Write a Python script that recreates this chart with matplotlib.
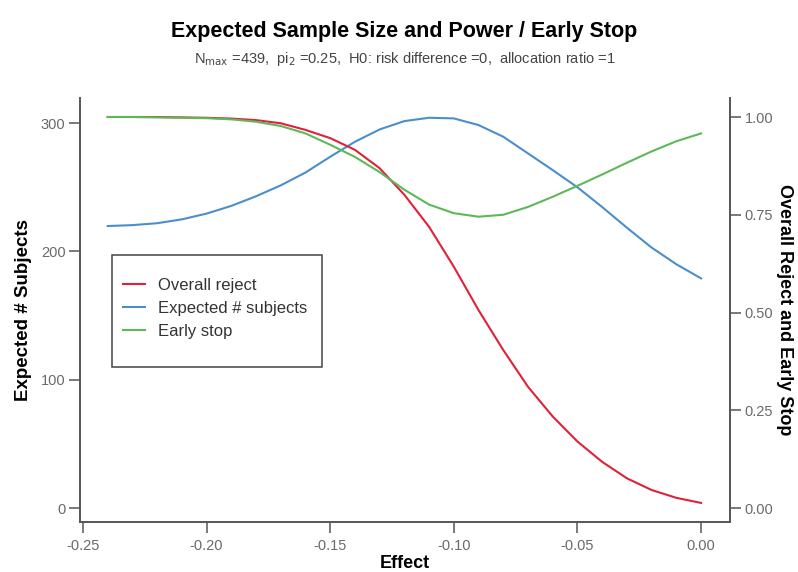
import numpy as np
import matplotlib
matplotlib.use("Agg")
import matplotlib.pyplot as plt
from matplotlib.patches import Rectangle

plt.rcParams['font.family'] = ['Liberation Sans', 'DejaVu Sans']

# effect grid and curves
effect = [-0.24, -0.23, -0.22, -0.21, -0.20, -0.19, -0.18, -0.17, -0.16, -0.15,
          -0.14, -0.13, -0.12, -0.11, -0.10, -0.09, -0.08, -0.07, -0.06, -0.05,
          -0.04, -0.03, -0.02, -0.01, 0.00]
overall_reject = [1.000, 1.000, 1.000, 0.999, 0.998, 0.996, 0.992, 0.984, 0.967, 0.946,
                  0.916, 0.869, 0.801, 0.719, 0.617, 0.506, 0.404, 0.310, 0.234, 0.170,
                  0.118, 0.076, 0.046, 0.026, 0.013]
expected_n = [219.8, 220.5, 222.0, 225.0, 229.5, 235.5, 243.0, 251.5, 261.5, 273.8,
              285.5, 295.1, 301.6, 304.2, 303.7, 298.5, 289.4, 276.4, 263.4, 250.0,
              234.6, 218.5, 203.0, 190.0, 179.0]
early_stop = [1.000, 1.000, 0.999, 0.998, 0.997, 0.994, 0.988, 0.977, 0.958, 0.929,
              0.898, 0.859, 0.814, 0.776, 0.754, 0.745, 0.750, 0.770, 0.796, 0.824,
              0.853, 0.883, 0.912, 0.938, 0.958]

xticks = [-0.25, -0.20, -0.15, -0.10, -0.05, 0.00]
yticks_left = [0, 100, 200, 300]
yticks_right = [0.00, 0.25, 0.50, 0.75, 1.00]

red = "#DF2139"
blue = "#4A8FCB"
green = "#5DB85A"
spine_col = "#555555"
lab_col = "#6a6a6a"

W, H = 798, 572
fig = plt.figure(figsize=(W / 100, H / 100), dpi=100)
ax = fig.add_axes([80 / W, 1 - 522 / H, 650 / W, 424 / H])
ax2 = ax.twinx()

l_blue, = ax.plot(effect, expected_n, color=blue, lw=1.5, label="Expected # subjects")
l_red, = ax2.plot(effect, overall_reject, color=red, lw=1.5, label="Overall reject")
l_green, = ax2.plot(effect, early_stop, color=green, lw=1.5, label="Early stop")

ax.set_xlim(-0.2512, 0.0117)
ax.set_ylim(-10.9, 319.6)
ax2.set_ylim(-0.0358, 1.0486)

ax.set_xticks(xticks)
ax.set_xticklabels([f"{v:.2f}" for v in xticks])
ax.set_yticks(yticks_left)
ax2.set_yticks(yticks_right)
ax2.set_yticklabels([f"{v:.2f}" for v in yticks_right])

for a in (ax, ax2):
    a.spines['top'].set_visible(False)
    for s in ('left', 'right', 'bottom'):
        a.spines[s].set_color(spine_col)
        a.spines[s].set_linewidth(1.4)
    a.tick_params(direction='out', length=8, width=1.1, color=spine_col,
                  labelcolor=lab_col, labelsize=10.5, pad=2.5)
ax.tick_params(axis='x', pad=4)
ax.spines['right'].set_visible(False)
ax2.spines['left'].set_visible(False)
ax2.spines['bottom'].set_visible(False)

ax.set_xlabel("Effect", fontsize=13, fontweight='bold', labelpad=2)
ax.set_ylabel("Expected # Subjects", fontsize=13.5, fontweight='bold', labelpad=6)
ax2.set_ylabel("Overall Reject and Early Stop", fontsize=13, fontweight='bold',
               rotation=270, labelpad=14)

fig.text(0.507, 1 - 32 / H, "Expected Sample Size and Power / Early Stop",
         ha='center', va='center', fontsize=15.5, fontweight='bold')
fig.text(0.507, 1 - 59 / H,
         r"N$_{\rm max}$ =439,  pi$_{2}$ =0.25,  H0: risk difference =0,  allocation ratio =1",
         ha='center', va='center', fontsize=10.5, color="#444444")

# legend entries, then a plain box around them
leg = ax2.legend(handles=[l_red, l_blue, l_green], loc='upper left',
                 bbox_to_anchor=(123 / W, 1 - 278 / H), bbox_transform=fig.transFigure,
                 fontsize=12, frameon=False, borderpad=0, borderaxespad=0,
                 labelspacing=0.48, handlelength=1.32, handletextpad=0.75)
for t in leg.get_texts():
    t.set_color("#333333")
fig.patches.append(Rectangle((112 / W, 1 - 367 / H), 210 / W, 112 / H,
                             transform=fig.transFigure, fill=False,
                             edgecolor="#444444", linewidth=1.1))

fig.savefig("out.png", dpi=100)
